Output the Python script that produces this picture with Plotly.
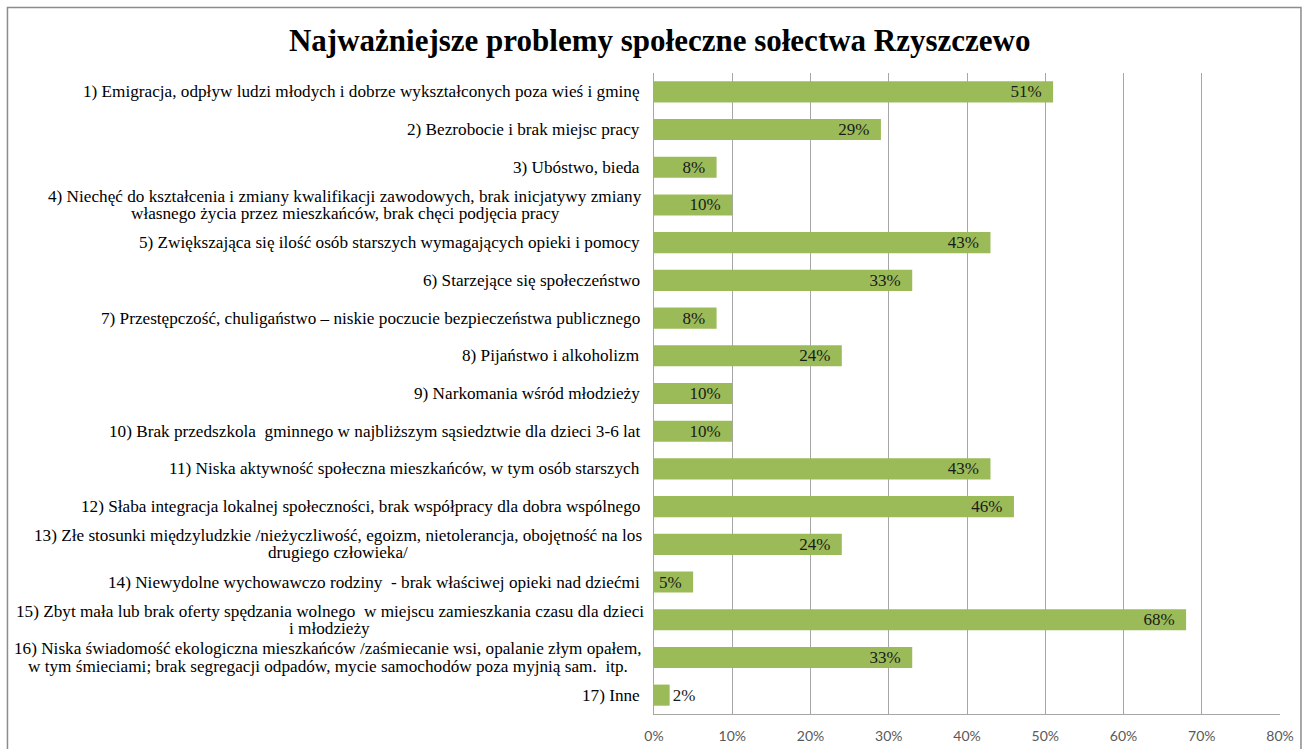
import plotly.graph_objects as go

title_text = "Najważniejsze problemy społeczne sołectwa Rzyszczewo"

categories = [
    "1) Emigracja, odpływ ludzi młodych i dobrze wykształconych poza wieś i gminę",
    "2) Bezrobocie i brak miejsc pracy",
    "3) Ubóstwo, bieda",
    "4) Niechęć do kształcenia i zmiany kwalifikacji zawodowych, brak inicjatywy zmiany<br>własnego życia przez mieszkańców, brak chęci podjęcia pracy",
    "5) Zwiększająca się ilość osób starszych wymagających opieki i pomocy",
    "6) Starzejące się społeczeństwo",
    "7) Przestępczość, chuligaństwo – niskie poczucie bezpieczeństwa publicznego",
    "8) Pijaństwo i alkoholizm",
    "9) Narkomania wśród młodzieży",
    "10) Brak przedszkola  gminnego w najbliższym sąsiedztwie dla dzieci 3-6 lat",
    "11) Niska aktywność społeczna mieszkańców, w tym osób starszych",
    "12) Słaba integracja lokalnej społeczności, brak współpracy dla dobra wspólnego",
    "13) Złe stosunki międzyludzkie /nieżyczliwość, egoizm, nietolerancja, obojętność na los<br>drugiego człowieka/",
    "14) Niewydolne wychowawczo rodziny  - brak właściwej opieki nad dziećmi",
    "15) Zbyt mała lub brak oferty spędzania wolnego  w miejscu zamieszkania czasu dla dzieci<br>i młodzieży",
    "16) Niska świadomość ekologiczna mieszkańców /zaśmiecanie wsi, opalanie złym opałem,<br>w tym śmieciami; brak segregacji odpadów, mycie samochodów poza myjnią sam.  itp.",
    "17) Inne",
]

values = [0.51, 0.29, 0.08, 0.10, 0.43, 0.33, 0.08, 0.24, 0.10, 0.10,
          0.43, 0.46, 0.24, 0.05, 0.68, 0.33, 0.02]

tick_values = [0, 0.1, 0.2, 0.3, 0.4, 0.5, 0.6, 0.7, 0.8]
tick_labels = ["0%", "10%", "20%", "30%", "40%", "50%", "60%", "70%", "80%"]

bar_color = "#9BBB59"
grid_color = "#A6A6A6"
serif = "Liberation Serif"
label_size = 17.2
label_gap = 12          # px between label block and the value axis
line_half = 8.6         # half line spacing for two-line labels (px)

# approximate Times/Liberation Serif advance widths (per 1000 em) used only
# to centre the second line of a wrapped label under the first one
_w = {}
for ch in "bdghknopquvxy0123456789ńó": _w[ch] = 500
for ch in "aceząęćżź": _w[ch] = 444
for ch in "ijltł;:/": _w[ch] = 278
for ch in "fr()-": _w[ch] = 333
for ch in "sś": _w[ch] = 389
_w["w"] = 722; _w["m"] = 778
for ch in " ,.": _w[ch] = 250
_w.update({"N": 722, "Z": 611, "W": 944, "S": 556, "P": 556, "I": 333})


def text_width(s, size):
    s = " ".join(s.split())
    return sum(_w.get(ch, 500) for ch in s) * size / 1000.0


value_text = [f"{round(v * 100)}%\u00a0\u00a0" for v in values]
text_pos = ["inside" if v >= 0.04 else "outside" for v in values]

fig = go.Figure()
fig.add_trace(go.Bar(
    x=values,
    y=categories,
    orientation="h",
    marker=dict(color=bar_color, line=dict(width=0)),
    text=value_text,
    textposition=text_pos,
    insidetextanchor="end",
    constraintext="none",
    textangle=0,
    cliponaxis=False,
    textfont=dict(family=serif, size=17, color="#1a1a1a"),
    hoverinfo="x",
))

annotations = []
for c in categories:
    lines = c.split("<br>")
    font = dict(family=serif, size=label_size, color="#000000")
    if len(lines) == 1:
        annotations.append(dict(
            x=0, y=c, xref="paper", yref="y", text=c, showarrow=False,
            xanchor="right", yanchor="middle", xshift=-label_gap, font=font,
        ))
    else:
        widest = max(text_width(l, label_size) for l in lines)
        centre_shift = -label_gap - widest / 2.0
        n = len(lines)
        for i, l in enumerate(lines):
            annotations.append(dict(
                x=0, y=c, xref="paper", yref="y", text=l, showarrow=False,
                xanchor="center", yanchor="middle",
                xshift=centre_shift,
                yshift=line_half * (n - 1 - 2 * i),
                font=font,
            ))

fig.update_layout(
    width=1309, height=749,
    margin=dict(l=654, r=29, t=73, b=35, autoexpand=False),
    paper_bgcolor="white",
    plot_bgcolor="white",
    showlegend=False,
    bargap=0.44,
    title=dict(
        text="<b>" + title_text + "</b>",
        x=0.504, xanchor="center", y=0.9466, yanchor="middle",
        font=dict(family=serif, size=31, color="#000000"),
        automargin=False,
    ),
    annotations=annotations,
    xaxis=dict(
        range=[0, 0.8],
        tickvals=tick_values,
        ticktext=tick_labels,
        showgrid=True, gridcolor=grid_color, gridwidth=1,
        showline=True, linecolor=grid_color, linewidth=1,
        zeroline=False,
        ticks="",
        tickfont=dict(family="Lato", size=14, color="#595959"),
        ticklabelstandoff=9,
        automargin=False,
        fixedrange=True,
    ),
    yaxis=dict(
        categoryorder="array", categoryarray=categories,
        autorange="reversed",
        showticklabels=False,
        showgrid=False,
        showline=True, linecolor=grid_color, linewidth=1,
        ticks="",
        automargin=False,
        fixedrange=True,
    ),
    shapes=[dict(
        type="rect", xref="paper", yref="paper",
        x0=-1.0328, x1=1.0335, y0=-0.12, y1=1.1022,
        line=dict(color="#8C8C8C", width=1.5),
        fillcolor="rgba(0,0,0,0)", layer="below",
    )],
)

fig.write_html(
    "out.html",
    config={"displayModeBar": False},
    post_script="document.body.style.margin='0';document.body.style.overflow='hidden';",
)
